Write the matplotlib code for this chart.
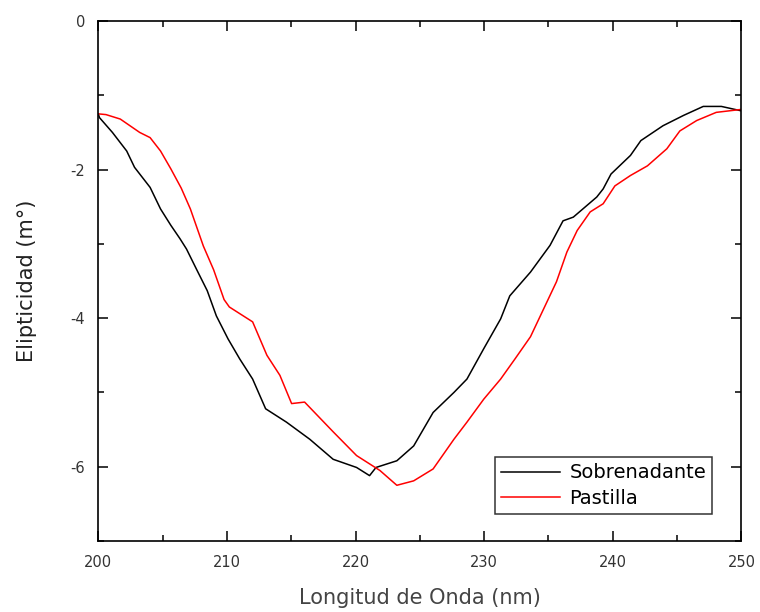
import matplotlib
matplotlib.use('Agg')
import matplotlib.pyplot as plt
from matplotlib.ticker import MultipleLocator

plt.rcParams['font.family'] = 'DejaVu Sans'
plt.rcParams['axes.unicode_minus'] = False

# Sobrenadante
wl_sob = [200.0, 200.09, 201.10, 202.21, 202.82, 204.03, 204.84, 205.64, 206.35, 206.86,
          207.66, 208.47, 209.18, 210.09, 211.00, 212.00, 213.01, 214.63, 216.44, 218.26,
          220.08, 221.09, 221.59, 223.21, 224.52, 226.03, 227.65, 228.66, 229.97, 231.28,
          231.99, 233.60, 235.12, 236.13, 236.93, 238.75, 239.25, 239.86, 241.37, 242.18,
          243.90, 245.51, 247.03, 248.44, 250.0]
el_sob = [-1.25, -1.30, -1.50, -1.75, -1.97, -2.24, -2.53, -2.75, -2.93, -3.07,
          -3.35, -3.63, -3.97, -4.28, -4.55, -4.82, -5.22, -5.40, -5.63, -5.90,
          -6.01, -6.12, -6.01, -5.92, -5.72, -5.27, -5.00, -4.82, -4.41, -4.01,
          -3.70, -3.38, -3.02, -2.69, -2.64, -2.37, -2.26, -2.06, -1.81, -1.61,
          -1.41, -1.27, -1.15, -1.15, -1.21]

# Pastilla
wl_pas = [200.0, 200.60, 201.71, 203.22, 204.03, 204.84, 205.64, 206.45, 207.16, 208.17,
          208.97, 209.78, 210.19, 212.00, 213.11, 214.12, 215.03, 216.04, 217.15, 218.26,
          220.08, 221.89, 223.21, 224.52, 226.03, 227.65, 228.66, 229.97, 231.28, 232.39,
          233.60, 234.61, 235.62, 236.43, 237.23, 238.24, 239.25, 240.16, 241.37, 242.69,
          244.20, 245.21, 246.52, 248.04, 250.0]
el_pas = [-1.25, -1.26, -1.32, -1.50, -1.57, -1.75, -1.99, -2.25, -2.53, -3.03,
          -3.35, -3.75, -3.85, -4.05, -4.50, -4.77, -5.15, -5.13, -5.33, -5.53,
          -5.85, -6.05, -6.25, -6.19, -6.03, -5.63, -5.40, -5.09, -4.82, -4.55,
          -4.25, -3.88, -3.51, -3.11, -2.82, -2.57, -2.46, -2.22, -2.08, -1.95,
          -1.72, -1.48, -1.34, -1.23, -1.19]

fig = plt.figure(figsize=(7.6, 6.12), dpi=100)
ax = fig.add_axes([0.1293, 0.116, 0.8463, 0.8497])

ax.plot(wl_sob, el_sob, color='black', lw=1.1, label='Sobrenadante')
ax.plot(wl_pas, el_pas, color='#ff0000', lw=1.1, label='Pastilla')

ax.set_xlim(200, 250)
ax.set_ylim(-7, 0)
ax.xaxis.set_major_locator(MultipleLocator(10))
ax.xaxis.set_minor_locator(MultipleLocator(5))
ax.yaxis.set_major_locator(MultipleLocator(2))
ax.yaxis.set_minor_locator(MultipleLocator(1))
ax.tick_params(which='both', direction='in', top=True, right=True,
               width=1.1, colors='black', labelcolor='#333333', labelsize=10.5)
ax.tick_params(axis='x', which='both', pad=10)
ax.tick_params(axis='y', which='both', pad=9.5)
ax.tick_params(which='major', length=7)
ax.tick_params(which='minor', length=4)
for s in ax.spines.values():
    s.set_linewidth(1.2)

ax.set_xlabel('Longitud de Onda (nm)', fontsize=15, color='#444444', labelpad=13)
ax.set_ylabel('Elipticidad (m°)', fontsize=15, color='#222222', labelpad=24)

leg = ax.legend(loc='lower right', bbox_to_anchor=(0.954, 0.052), fontsize=14,
                frameon=True, fancybox=False, handlelength=3.0, borderpad=0.3,
                labelspacing=0.35, handletextpad=0.5, borderaxespad=0)
leg.get_frame().set_edgecolor('black')
leg.get_frame().set_linewidth(1.1)

plt.savefig('out.png', dpi=100)
